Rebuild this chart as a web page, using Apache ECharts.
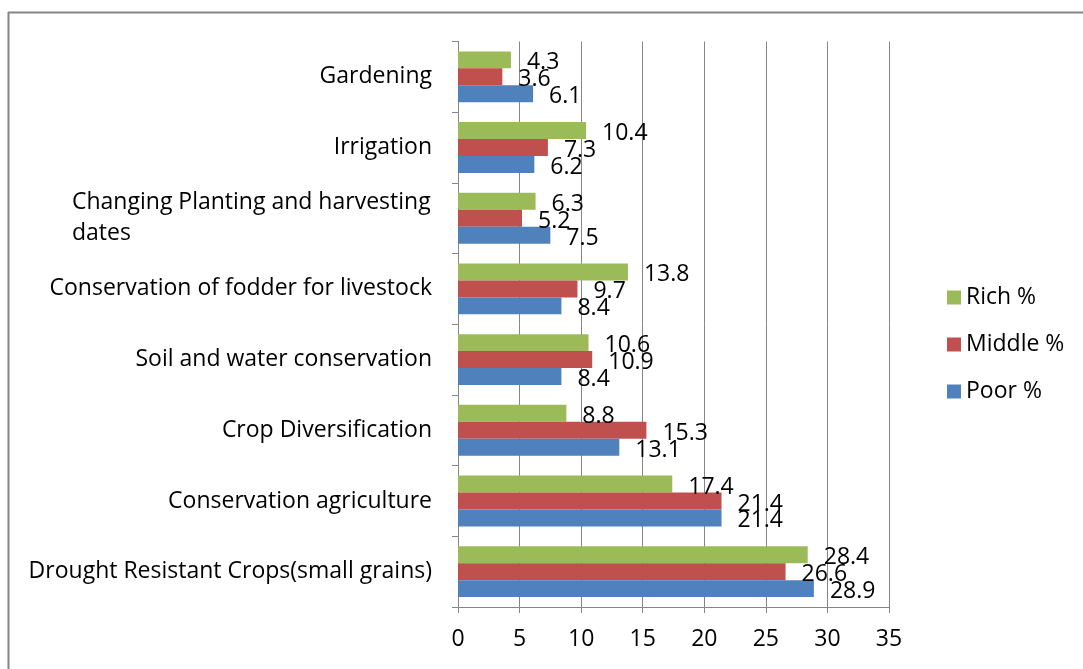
<!DOCTYPE html>
<html>
<head>
<meta charset="utf-8">
<script src="https://cdn.jsdelivr.net/npm/echarts@6/dist/echarts.min.js"></script>
<style>html,body{margin:0;padding:0;background:#fff}#c{width:1083px;height:669px}</style>
</head>
<body>
<div id="c"></div>
<script>
var categories = ['Drought Resistant Crops(small grains)', 'Conservation agriculture', 'Crop Diversification', 'Soil and water conservation', 'Conservation of fodder for livestock', 'Changing Planting and harvesting dates', 'Irrigation', 'Gardening'];
var poor = [28.9, 21.4, 13.1, 8.4, 8.4, 7.5, 6.2, 6.1];
var middle = [26.6, 21.4, 15.3, 10.9, 9.7, 5.2, 7.3, 3.6];
var rich = [28.4, 17.4, 8.8, 10.6, 13.8, 6.3, 10.4, 4.3];
var xTicks = [0, 5, 10, 15, 20, 25, 30, 35];

var FONT = 'Open Sans';
var FS = 23;
var cv = document.createElement('canvas').getContext('2d');
cv.font = FS + 'px "' + FONT + '"';
var firstLineW = Math.ceil(cv.measureText('Changing Planting and harvesting').width) + 1;

var chart = echarts.init(document.getElementById('c'), null, {renderer: 'canvas'});
function lbl() {
  return {show: true, position: 'right', distance: 16, offset: [0, 3], color: '#000', fontSize: FS, fontFamily: FONT};
}
chart.setOption({
  animation: false,
  textStyle: {fontFamily: FONT},
  grid: {left: 458, right: 194, top: 41.5, bottom: 62},
  legend: {
    orient: 'vertical', left: 942, top: 281,
    itemWidth: 14, itemHeight: 14, itemGap: 24,
    data: ['Rich %', 'Middle %', 'Poor %'],
    textStyle: {fontSize: FS, color: '#000', fontFamily: FONT, lineHeight: 23},
    icon: 'rect'
  },
  xAxis: {
    type: 'value', min: 0, max: 35, interval: 5,
    axisLine: {show: true, lineStyle: {color: '#868686', width: 1}},
    axisTick: {show: true, length: 6, lineStyle: {color: '#868686'}},
    splitLine: {show: true, lineStyle: {color: '#868686', width: 1}},
    axisLabel: {color: '#000', fontSize: FS, fontFamily: FONT, margin: 21,
      formatter: function (v) { return xTicks.indexOf(v) >= 0 ? String(v) : ''; }}
  },
  yAxis: {
    type: 'category', data: categories,
    axisLine: {show: true, lineStyle: {color: '#868686', width: 1}},
    axisTick: {show: true, length: 6, lineStyle: {color: '#868686'}},
    axisLabel: {
      color: '#000', fontSize: FS, fontFamily: FONT, margin: 26,
      formatter: function (v) {
        if (v.indexOf('Changing') === 0) {
          return '{a|Changing Planting and harvesting}\n{a|dates}';
        }
        return v;
      },
      rich: {a: {width: firstLineW, align: 'left', fontSize: FS, fontFamily: FONT, color: '#000', lineHeight: 31}}
    }
  },
  series: [
    {name: 'Rich %', type: 'bar', data: rich, itemStyle: {color: '#9BBB59'}, barGap: '0%', barCategoryGap: '28%', label: lbl()},
    {name: 'Middle %', type: 'bar', data: middle, itemStyle: {color: '#C0504D'}, barGap: '0%', barCategoryGap: '28%', label: lbl()},
    {name: 'Poor %', type: 'bar', data: poor, itemStyle: {color: '#4F81BD'}, barGap: '0%', barCategoryGap: '28%', label: lbl()}
  ],
  graphic: [
    {type: 'line', shape: {x1: 8, y1: 12.5, x2: 1083, y2: 12.5}, style: {stroke: '#868686', lineWidth: 2}, silent: true},
    {type: 'line', shape: {x1: 8.5, y1: 12, x2: 8.5, y2: 669}, style: {stroke: '#868686', lineWidth: 2}, silent: true}
  ]
});
</script>
</body>
</html>
